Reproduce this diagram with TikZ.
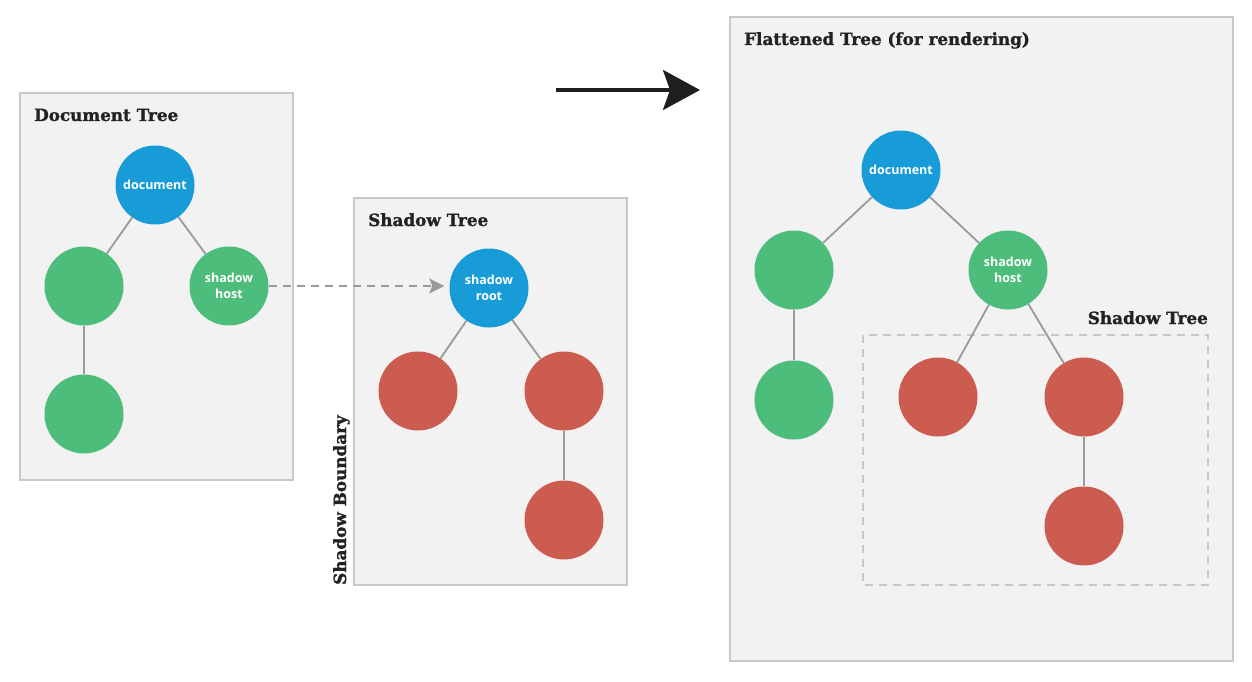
\documentclass[tikz,border=0pt]{standalone}
\usepackage{fontspec}
\setmainfont{Open Sans}
\newfontfamily\titlefont{DejaVu Serif}[BoldFeatures={FakeBold=1.3}]
\usetikzlibrary{arrows.meta}
\definecolor{panelfill}{HTML}{F2F2F2}
\definecolor{panelline}{HTML}{C8C8C8}
\definecolor{edgegray}{HTML}{9A9A9A}
\definecolor{nodeblue}{HTML}{189CD8}
\definecolor{nodegreen}{HTML}{4DBD7C}
\definecolor{nodered}{HTML}{CD5C50}
\definecolor{titleink}{HTML}{222222}
\tikzset{
  panel/.style={draw=panelline, fill=panelfill, line width=2pt},
  ptitle/.style={anchor=base west, inner sep=0pt, font=\titlefont\bfseries\fontsize{16.8}{19}\selectfont, text=titleink},
  tnode/.style={circle, minimum size=79pt, inner sep=0pt, text=white, align=center, font=\bfseries\fontsize{12.5}{16.5}\selectfont},
  bluen/.style={tnode, fill=nodeblue},
  greenn/.style={tnode, fill=nodegreen},
  redn/.style={tnode, fill=nodered},
  edge/.style={draw=edgegray, line width=1.8pt},
}
\begin{document}
\begin{tikzpicture}[x=1pt,y=-1pt]
\useasboundingbox (0,0) rectangle (1252,682);
\fill[white] (0,0) rectangle (1252,682);

% Document tree panel
\draw[panel] (20,93) rectangle (293,480);
\node[ptitle] (t1) at (34,121) {Document Tree};
\node[bluen] (d1) at (155,185) {document};
\node[greenn] (g1) at (84,286) {};
\node[greenn] (h1) at (229,286) {shadow\\host};
\node[greenn] (g2) at (84,414) {};
\draw[edge] (d1) -- (g1);
\draw[edge] (d1) -- (h1);
\draw[edge] (g1) -- (g2);

% Shadow tree panel
\draw[panel] (354,198) rectangle (627,585);
\node[ptitle] (t2) at (368,226) {Shadow Tree};
\node[bluen] (r2) at (489,288) {shadow\\root};
\node[redn] (a2) at (418,391) {};
\node[redn] (b2) at (564,391) {};
\node[redn] (c2) at (564,520) {};
\draw[edge] (r2) -- (a2);
\draw[edge] (r2) -- (b2);
\draw[edge] (b2) -- (c2);
\node[ptitle, rotate=90] (sb) at (346,585) {Shadow Boundary};

% dashed link
\draw[edgegray, line width=1.8pt, dash pattern=on 8pt off 6pt, shorten >=5pt, -{Stealth[length=15pt,width=15pt,inset=3pt]}] (h1.east) -- (h1.east -| r2.west);

% big arrow
\coordinate (a0) at (556,90);
\coordinate (a1) at (700,90);
\draw[black!88, line width=3.5pt, -{Stealth[length=37pt,width=40pt,inset=7pt]}] (a0) -- (a1);

% Flattened tree panel
\draw[panel] (730,17) rectangle (1233,661);
\node[ptitle] (t3) at (744,45) {Flattened Tree (for rendering)};
\draw[panelline, line width=1.8pt, dash pattern=on 8pt off 6pt] (863,335) rectangle (1208,585);
\node[ptitle, anchor=base east] (t4) at (1208,324) {Shadow Tree};
\node[bluen] (d3) at (901,170) {document};
\node[greenn] (g3) at (794,270) {};
\node[greenn] (h3) at (1008,270) {shadow\\host};
\node[greenn] (g4) at (794,400) {};
\node[redn] (a3) at (938,397) {};
\node[redn] (b3) at (1084,397) {};
\node[redn] (c3) at (1084,526) {};
\draw[edge] (d3) -- (g3);
\draw[edge] (d3) -- (h3);
\draw[edge] (g3) -- (g4);
\draw[edge] (h3) -- (a3);
\draw[edge] (h3) -- (b3);
\draw[edge] (b3) -- (c3);
\end{tikzpicture}
\end{document}
